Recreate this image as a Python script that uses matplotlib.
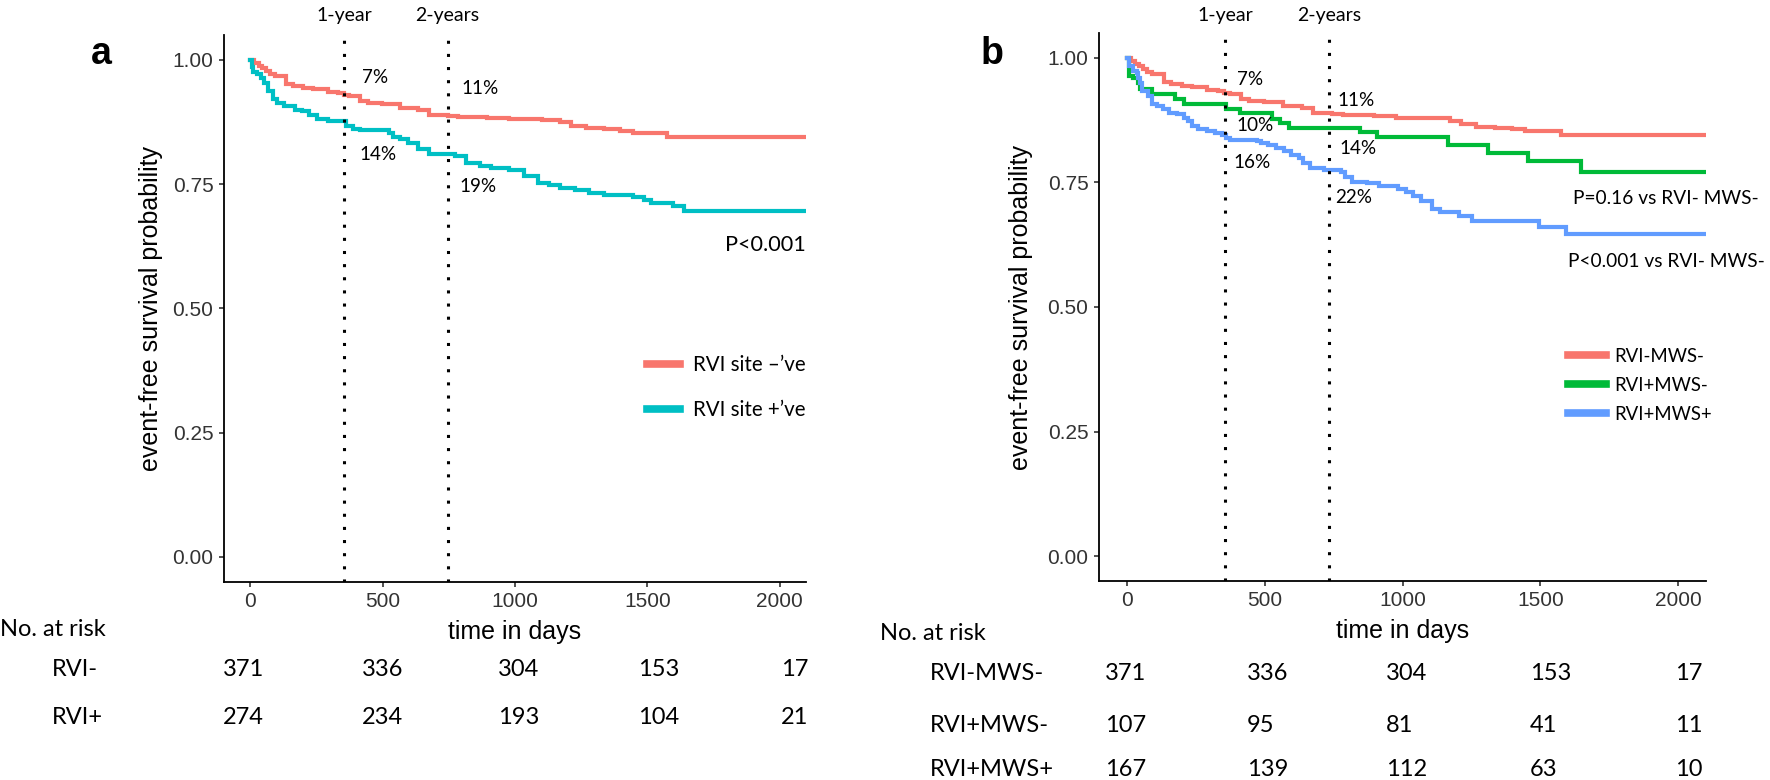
import matplotlib
matplotlib.use('Agg')
import matplotlib.pyplot as plt
from matplotlib.transforms import blended_transform_factory

W, H = 1770, 780

# Kaplan-Meier steps (day, survival after step)
# RVI- (also RVI-MWS- in panel b)
neg_t = [0, 15, 31, 45, 58, 75, 93, 134, 161, 200, 237, 292, 330, 353, 374, 415, 443, 498,
         566, 635, 676, 745, 786, 896, 978, 1102, 1171, 1212, 1267, 1336, 1397, 1445, 1576]
neg_s = [1.0, 0.994, 0.988, 0.983, 0.978, 0.972, 0.968, 0.951, 0.948, 0.944, 0.941, 0.936, 0.934,
         0.930, 0.927, 0.917, 0.914, 0.911, 0.904, 0.900, 0.890, 0.888, 0.886, 0.884, 0.880, 0.879,
         0.874, 0.867, 0.862, 0.860, 0.857, 0.853, 0.845]
# RVI+
pos_t = [0, 5, 10, 24, 38, 51, 65, 86, 100, 127, 168, 196, 223, 251, 292, 361, 388, 415, 525, 539,
         566, 594, 635, 676, 772, 814, 869, 910, 978, 1033, 1088, 1129, 1171, 1226, 1281, 1336,
         1445, 1486, 1514, 1597, 1638]
pos_s = [1.0, 0.985, 0.975, 0.971, 0.964, 0.954, 0.938, 0.921, 0.914, 0.907, 0.900, 0.897, 0.890,
         0.880, 0.877, 0.867, 0.860, 0.859, 0.853, 0.845, 0.841, 0.833, 0.820, 0.810, 0.806, 0.793,
         0.786, 0.783, 0.779, 0.766, 0.752, 0.749, 0.742, 0.739, 0.732, 0.729, 0.725, 0.719, 0.712,
         0.705, 0.695]
# RVI+MWS-
mwsneg_t = [0, 9, 22, 43, 50, 91, 175, 209, 361, 410, 527, 555, 590, 845, 908, 1164, 1309, 1454, 1648]
mwsneg_s = [1.0, 0.963, 0.960, 0.950, 0.937, 0.927, 0.917, 0.907, 0.897, 0.890, 0.878, 0.870,
            0.860, 0.851, 0.842, 0.826, 0.810, 0.793, 0.771]
# RVI+MWS+
mwspos_t = [0, 9, 22, 36, 43, 50, 57, 78, 91, 112, 133, 154, 181, 209, 223, 237, 258, 292, 320,
            347, 361, 375, 403, 472, 486, 513, 541, 569, 596, 624, 638, 666, 714, 749, 776, 790,
            818, 873, 915, 956, 984, 1011, 1039, 1066, 1108, 1136, 1205, 1253, 1495, 1592]
mwspos_s = [1.0, 0.983, 0.973, 0.970, 0.960, 0.950, 0.933, 0.923, 0.907, 0.903, 0.897, 0.890,
            0.887, 0.880, 0.873, 0.863, 0.857, 0.853, 0.850, 0.846, 0.840, 0.836, 0.835, 0.833,
            0.830, 0.826, 0.820, 0.813, 0.806, 0.800, 0.790, 0.780, 0.776, 0.775, 0.770, 0.760,
            0.750, 0.748, 0.743, 0.742, 0.736, 0.730, 0.723, 0.713, 0.696, 0.690, 0.683, 0.673,
            0.660, 0.646]
end_day = 2095

xticks = [0, 500, 1000, 1500, 2000]
yticks = [0.0, 0.25, 0.5, 0.75, 1.0]

risk_a_labels = ['RVI-', 'RVI+']
risk_a = [[371, 336, 304, 153, 17], [274, 234, 193, 104, 21]]
risk_b_labels = ['RVI-MWS-', 'RVI+MWS-', 'RVI+MWS+']
risk_b = [[371, 336, 304, 153, 17], [107, 95, 81, 41, 11], [167, 139, 112, 63, 10]]

RED, TEAL, GREEN, BLUE = '#F8766D', '#00BFC4', '#00BA38', '#619CFF'
ANN = ['Lato', 'DejaVu Sans']
AX = ['Liberation Sans', 'DejaVu Sans']

fig = plt.figure(figsize=(W/100, H/100), dpi=100)
ax1 = fig.add_axes([224/W, 1-581.7/H, 582/W, 546.7/H])
ax2 = fig.add_axes([1099/W, 1-581/H, 607/W, 548/H])

def fxy(x, y):
    return x/W, 1 - y/H

def km(ax, t, s, c, lab):
    return ax.step(t + [end_day], s + [s[-1]], where='post', color=c, lw=3.0, label=lab,
                   solid_joinstyle='miter')[0]

km(ax1, neg_t, neg_s, RED, 'RVI site \u2013\u2019ve')
km(ax1, pos_t, pos_s, TEAL, 'RVI site +\u2019ve')
km(ax2, neg_t, neg_s, RED, 'RVI-MWS-')
km(ax2, mwsneg_t, mwsneg_s, GREEN, 'RVI+MWS-')
km(ax2, mwspos_t, mwspos_s, BLUE, 'RVI+MWS+')

vlines = {ax1: [354, 745], ax2: [357, 735]}
for ax in (ax1, ax2):
    ax.set_xlim(-100, 2100)
    ax.set_ylim(-0.05, 1.05)
    ax.set_xticks(xticks)
    ax.set_yticks(yticks)
    ax.set_yticklabels(['%.2f' % v for v in yticks])
    for sp in ['top', 'right']:
        ax.spines[sp].set_visible(False)
    for sp in ['left', 'bottom']:
        ax.spines[sp].set_linewidth(1.3)
    ax.tick_params(length=3.6, width=1.2, labelsize=15, colors='#333333', pad=4)
    ax.tick_params(axis='x', pad=3.5)
    for lb in ax.get_xticklabels() + ax.get_yticklabels():
        lb.set_family(AX)
    ax.set_xlabel('time in days', fontsize=18, family=AX)
    ax.set_ylabel('event-free survival probability', fontsize=18, family=AX)
    tr = blended_transform_factory(ax.transData, fig.transFigure)
    for d, txt in zip(vlines[ax], ['1-year', '2-years']):
        ax.axvline(d, color='black', lw=2.2, linestyle=(0, (1, 3.3)), dash_capstyle='butt')
        ax.text(d, 1 - 16/H, txt, transform=tr, ha='center', va='center', fontsize=14, family=ANN)

ax1.xaxis.set_label_coords(0.5, -0.070)
ax2.xaxis.set_label_coords(0.5, -0.069)
ax1.xaxis.label.set_va('top')
ax2.xaxis.label.set_va('top')
ax1.yaxis.set_label_coords(-0.105, 0.5)
ax2.yaxis.set_label_coords(-0.109, 0.5)

# percentages at 1 and 2 years
for x, y, t in [(423, 0.964, '7%'), (797, 0.943, '11%'), (412, 0.810, '14%'), (790, 0.746, '19%')]:
    ax1.text(x, y, t, ha='left', va='center', fontsize=13.6, family=ANN)
ax1.text(2100, 0.628, 'P<0.001', ha='right', va='center', fontsize=15.6, family=ANN)
for x, y, t in [(401, 0.956, '7%'), (763, 0.915, '11%'), (398, 0.864, '10%'), (773, 0.819, '14%'),
                (387, 0.791, '16%'), (755, 0.720, '22%')]:
    ax2.text(x, y, t, ha='left', va='center', fontsize=13.6, family=ANN)
ax2.text(1617, 0.717, 'P=0.16 vs RVI- MWS-', ha='left', va='center', fontsize=13.8, family=ANN, clip_on=False)
ax2.text(1600, 0.592, 'P<0.001 vs RVI- MWS-', ha='left', va='center', fontsize=13.8, family=ANN, clip_on=False)

leg1 = ax1.legend(loc='center left', bbox_to_anchor=(0.727, 0.355), frameon=False, borderpad=0,
                  borderaxespad=0, handlelength=1.6, handletextpad=0.63, labelspacing=1.24,
                  prop={'family': ANN, 'size': 14.8})
leg2 = ax2.legend(loc='center left', bbox_to_anchor=(0.773, 0.357), frameon=False, borderpad=0,
                  borderaxespad=0, handlelength=2.04, handletextpad=0.43, labelspacing=0.65,
                  prop={'family': ANN, 'size': 13.4})
for lg in (leg1, leg2):
    for h in lg.legend_handles:
        h.set_linewidth(5.5)

# panel letters
fig.text(*fxy(101, 64), 'a', ha='center', va='baseline', fontsize=27, fontweight='bold', family=AX)
fig.text(*fxy(992, 64), 'b', ha='center', va='baseline', fontsize=27, fontweight='bold', family=AX)

# number at risk tables
fig.text(*fxy(0, 630), 'No. at risk', ha='left', va='center', fontsize=17, family=ANN)
cols_a = [223, 362, 498, 638, 781]
for lab, row, y in zip(risk_a_labels, risk_a, [669, 718]):
    fig.text(*fxy(52, y), lab, ha='left', va='center', fontsize=17, family=ANN)
    for x, n in zip(cols_a, row):
        fig.text(*fxy(x, y), str(n), ha='left', va='center', fontsize=17, family=ANN)

fig.text(*fxy(880, 633), 'No. at risk', ha='left', va='center', fontsize=17, family=ANN)
cols_b = [1105, 1247, 1386, 1530, 1675]
for lab, row, y in zip(risk_b_labels, risk_b, [673, 725, 769]):
    fig.text(*fxy(930, y), lab, ha='left', va='center', fontsize=17, family=ANN)
    for x, n in zip(cols_b, row):
        fig.text(*fxy(x, y), str(n), ha='left', va='center', fontsize=17, family=ANN)

fig.savefig('out.png', dpi=100)
